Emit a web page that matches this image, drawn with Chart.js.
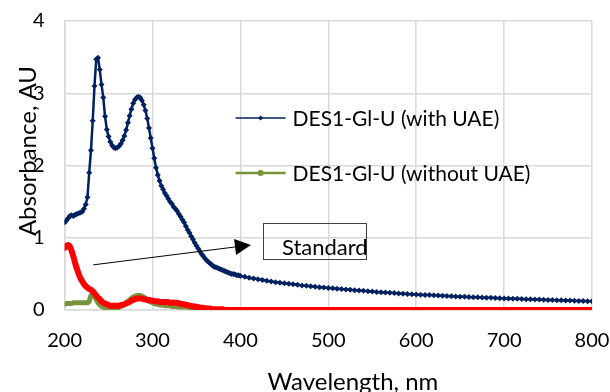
<!DOCTYPE html>
<html>
<head>
<meta charset="utf-8">
<script src="https://cdn.jsdelivr.net/npm/chart.js@4.4.1/dist/chart.umd.min.js"></script>
<style>
html,body{margin:0;padding:0;background:#fff;}
#wrap{width:610px;height:392px;}
</style>
</head>
<body>
<div id="wrap"><canvas id="uvChart"></canvas></div>
<script>
// wavelength (nm), 200-400 every 2 nm
const wavelength = [200,202,204,206,208,210,212,214,216,218,220,222,224,226,228,230,232,234,236,238,240,242,244,246,248,250,252,254,256,258,260,262,264,266,268,270,272,274,276,278,280,282,284,286,288,290,292,294,296,298,300,302,304,306,308,310,312,314,316,318,320,322,324,326,328,330,332,334,336,338,340,342,344,346,348,350,352,354,356,358,360,362,364,366,368,370,372,374,376,378,380,382,384,386,388,390,392,394,396,398,400];

const withUAE = [1.21,1.24,1.27,1.30,1.31,1.30,1.32,1.33,1.34,1.35,
 1.36,1.40,1.46,1.56,1.90,2.21,2.62,3.10,3.47,3.49,
 3.33,3.12,2.94,2.68,2.50,2.40,2.33,2.28,2.25,2.24,
 2.25,2.27,2.30,2.35,2.41,2.49,2.59,2.69,2.78,2.86,
 2.91,2.94,2.95,2.94,2.90,2.84,2.76,2.65,2.52,2.38,
 2.24,2.10,1.97,1.87,1.79,1.72,1.67,1.62,1.58,1.54,
 1.50,1.47,1.43,1.40,1.37,1.33,1.29,1.25,1.21,1.16,
 1.11,1.07,1.02,0.98,0.93,0.89,0.85,0.81,0.77,0.74,
 0.71,0.68,0.66,0.64,0.62,0.60,0.59,0.58,0.57,0.56,
 0.55,0.54,0.53,0.52,0.51,0.50,0.50,0.49,0.48,0.48,
 0.47];

// long tail of the UAE sample, every 5 nm
const tailWavelength = [405,410,415,420,425,430,435,440,445,450,455,460,465,470,475,480,485,490,495,500,505,510,515,520,525,530,535,540,545,550,555,560,565,570,575,580,585,590,595,600,605,610,615,620,625,630,635,640,645,650,655,660,665,670,675,680,685,690,695,700,705,710,715,720,725,730,735,740,745,750,755,760,765,770,775,780,785,790,795,800];
const withUAETail = [0.46,0.445,0.435,0.425,0.415,0.405,0.395,0.385,0.377,0.37,0.362,0.355,0.348,0.34,0.334,0.328,0.322,0.316,0.31,0.305,
 0.30,0.295,0.29,0.285,0.28,0.275,0.27,0.265,0.26,0.255,0.25,0.246,0.242,0.238,0.234,0.23,0.226,0.222,0.218,0.215,
 0.212,0.209,0.206,0.203,0.2,0.197,0.194,0.191,0.188,0.185,0.182,0.18,0.177,0.175,0.172,0.17,0.168,0.165,0.163,0.16,
 0.158,0.156,0.154,0.152,0.15,0.148,0.146,0.144,0.142,0.14,0.138,0.136,0.134,0.132,0.13,0.128,0.126,0.124,0.122,0.12];

const withoutUAE = [0.08,0.09,0.09,0.09,0.09,0.10,0.10,0.10,0.10,0.10,
 0.10,0.10,0.10,0.10,0.12,0.20,0.24,0.20,0.14,0.10,
 0.07,0.05,0.04,0.03,0.02,0.02,0.02,0.02,0.02,0.03,
 0.03,0.04,0.05,0.06,0.08,0.10,0.12,0.14,0.16,0.18,
 0.19,0.20,0.20,0.20,0.19,0.18,0.16,0.14,0.12,0.11,
 0.10,0.09,0.08,0.08,0.07,0.07,0.07,0.06,0.06,0.06,
 0.06,0.05,0.05,0.05,0.05,0.04,0.04,0.04,0.04,0.04,
 0.04,0.03,0.03,0.03,0.03,0.02,0.02,0.02,0.02,0.01,
 0.01,0.01,0.01,0.01,0,0,0,0,0,0,
 0,0,0,0,0,0,0,0,0,0,
 0];

const standard = [0.86,0.89,0.90,0.88,0.82,0.74,0.65,0.57,0.50,0.44,
 0.40,0.36,0.33,0.31,0.29,0.28,0.26,0.23,0.20,0.17,
 0.15,0.12,0.10,0.09,0.08,0.07,0.06,0.06,0.06,0.06,
 0.06,0.06,0.07,0.07,0.08,0.09,0.10,0.11,0.13,0.14,
 0.15,0.16,0.16,0.16,0.16,0.15,0.15,0.14,0.14,0.13,
 0.13,0.12,0.12,0.12,0.11,0.11,0.11,0.11,0.11,0.11,
 0.10,0.10,0.10,0.10,0.10,0.09,0.09,0.08,0.08,0.07,
 0.07,0.06,0.06,0.05,0.05,0.04,0.04,0.03,0.03,0.03,
 0.02,0.02,0.02,0.02,0.01,0.01,0.01,0.01,0.01,0.01,
 0.01,0,0,0,0,0,0,0,0,0,
 0];
const standardTailWavelength = [500,600,700,800];
const standardTail = [0,0,0,0];

const legendLabels = ['DES1-Gl-U (with UAE)', 'DES1-Gl-U (without UAE)'];
const noteLabel = 'Standard';
const yTitle = 'Absorbance, AU';
const xTitle = 'Wavelength, nm';

const FONT = 'Lato, "Open Sans", sans-serif';

function pts(xs, ys) {
  return xs.map((x, i) => ({x: x, y: ys[i]}));
}

const blueColor = '#002060';
const greenColor = '#77933C';
const redColor = '#FF0000';

const overlay = {
  id: 'overlay',
  afterDraw(chart) {
    const c = chart.ctx;
    const xs = chart.scales.x, ys = chart.scales.y;
    const px = v => xs.getPixelForValue(v);
    const py = v => ys.getPixelForValue(v);
    const area = chart.chartArea;
    c.save();

    // axis titles, placed off-centre like the Excel original
    c.fillStyle = '#000';
    c.font = '24px ' + FONT;
    c.textAlign = 'center';
    c.textBaseline = 'middle';
    c.fillText(xTitle, px(528), area.bottom + 72);
    c.save();
    c.translate(area.left - 36, py(2.2));
    c.rotate(-Math.PI / 2);
    c.fillText(yTitle, 0, 0);
    c.restore();

    // arrow pointing to the text box
    const x0 = px(232.6), y0 = py(0.625);
    const x1 = px(412), y1 = py(0.90);
    const ang = Math.atan2(y1 - y0, x1 - x0);
    const head = 16;
    c.strokeStyle = '#000';
    c.lineWidth = 1;
    c.beginPath();
    c.moveTo(x0, y0);
    c.lineTo(x1 - head * Math.cos(ang), y1 - head * Math.sin(ang));
    c.stroke();
    c.fillStyle = '#000';
    c.beginPath();
    c.moveTo(x1, y1);
    c.lineTo(x1 - head * Math.cos(ang) + 8 * Math.sin(ang), y1 - head * Math.sin(ang) - 8 * Math.cos(ang));
    c.lineTo(x1 - head * Math.cos(ang) - 8 * Math.sin(ang), y1 - head * Math.sin(ang) + 8 * Math.cos(ang));
    c.closePath();
    c.fill();
    // text box
    const bx0 = px(425.7), bx1 = px(543.4), by0 = py(1.21), by1 = py(0.71);
    c.strokeStyle = '#404040';
    c.lineWidth = 1;
    c.strokeRect(Math.round(bx0) + 0.5, Math.round(by0) + 0.5, Math.round(bx1 - bx0), Math.round(by1 - by0));
    c.fillStyle = '#000';
    c.font = '22px ' + FONT;
    c.textBaseline = 'middle';
    c.textAlign = 'left';
    c.fillText(noteLabel, bx0 + 19, (by0 + by1) / 2 + 7);

    // legend (only the two samples are listed)
    const lx = area.left + 171;
    const rows = [area.top + 97, area.top + 152];
    const cols = [blueColor, greenColor];
    rows.forEach((ry, i) => {
      c.strokeStyle = cols[i];
      c.lineWidth = i === 0 ? 1.5 : 2.5;
      c.beginPath();
      c.moveTo(lx, ry);
      c.lineTo(lx + 50, ry);
      c.stroke();
      c.fillStyle = cols[i];
      c.beginPath();
      if (i === 0) {
        c.moveTo(lx + 25, ry - 2.5); c.lineTo(lx + 27.5, ry); c.lineTo(lx + 25, ry + 2.5); c.lineTo(lx + 22.5, ry);
      } else {
        c.arc(lx + 25, ry, 3, 0, Math.PI * 2);
      }
      c.closePath();
      c.fill();
      c.fillStyle = '#000';
      c.font = '21px ' + FONT;
      c.textBaseline = 'middle';
      c.fillText(legendLabels[i], lx + 57, ry + 1);
    });
    c.restore();
  }
};

const ctx = document.getElementById('uvChart');
new Chart(ctx, {
  type: 'line',
  data: {
    datasets: [{
      label: legendLabels[0],
      data: pts(wavelength, withUAE).concat(pts(tailWavelength, withUAETail)),
      borderColor: blueColor,
      backgroundColor: blueColor,
      borderWidth: 2.5,
      pointStyle: 'rectRot',
      pointRadius: 3,
      pointBorderWidth: 0,
      order: 2
    }, {
      label: legendLabels[1],
      data: pts(wavelength, withoutUAE),
      borderColor: greenColor,
      backgroundColor: greenColor,
      borderWidth: 5,
      pointRadius: 0,
      order: 1
    }, {
      label: 'Standard',
      data: pts(wavelength, standard).concat(pts(standardTailWavelength, standardTail)),
      borderColor: redColor,
      backgroundColor: redColor,
      borderWidth: 6,
      pointRadius: 0,
      order: 0
    }]
  },
  options: {
    responsive: true,
    maintainAspectRatio: false,
    animation: false,
    layout: {padding: {top: 21, right: 18, bottom: 20, left: 13}},
    plugins: {
      legend: {display: false},
      tooltip: {enabled: false}
    },
    elements: {line: {tension: 0, borderJoinStyle: 'round', borderCapStyle: 'round'}},
    scales: {
      x: {
        type: 'linear',
        min: 200, max: 800,
        ticks: {stepSize: 100, padding: 19, color: '#000', font: {family: FONT, size: 20}},
        grid: {color: '#d9d9d9', lineWidth: 1.5, drawTicks: false},
        border: {color: '#d9d9d9', width: 1.5},
        afterFit(scale) { scale.paddingLeft = 0; scale.paddingRight = 0; }
      },
      y: {
        min: 0, max: 4,
        ticks: {stepSize: 1, padding: 20, color: '#000', font: {family: FONT, size: 20}},
        grid: {color: '#d9d9d9', lineWidth: 1.5, drawTicks: false},
        border: {color: '#d9d9d9', width: 1.5},
        afterFit(scale) { scale.paddingTop = 0; scale.paddingBottom = 0; }
      }
    }
  },
  plugins: [overlay]
});
</script>
</body>
</html>
